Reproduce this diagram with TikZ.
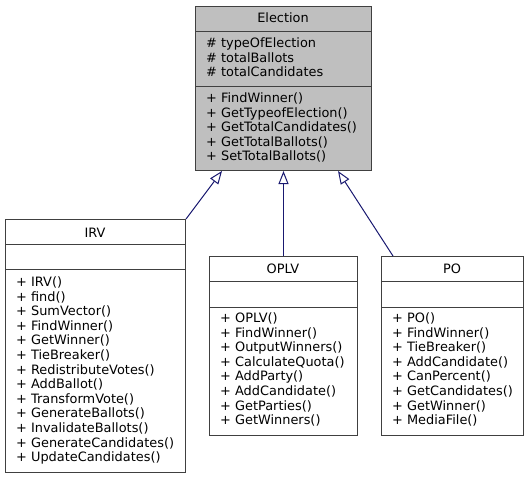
\documentclass[tikz,border=0pt]{standalone}
\usepackage{fontspec}
\setmainfont{DejaVu Sans}
\usetikzlibrary{arrows.meta,calc}
\definecolor{edgeblue}{HTML}{191970}
\definecolor{basegray}{HTML}{BFBFBF}
\tikzset{
  classbox/.style={draw=black!75, line width=1pt, inner sep=0pt, anchor=north west},
  sepline/.style={draw=black!75, line width=1pt},
  member/.style={anchor=base west, inner sep=0pt, font=\fontsize{12.9}{14}\selectfont},
  classname/.style={anchor=base, inner sep=0pt, font=\fontsize{12.9}{14}\selectfont},
  inherit/.style={draw=edgeblue, line width=1pt, -{Triangle[open,length=13pt,width=10pt]}},
}

\begin{document}
\begin{tikzpicture}[x=1pt,y=-1pt]
			\useasboundingbox (0,0) rectangle (529,477);
			%%%%% BASE CLASS %%%%%
			\node[classbox, fill=basegray, minimum width=176pt, minimum height=164pt] (election) at (195,6) {};
			\draw[sepline] (195,31) -- (371,31);
			\draw[sepline] (195,86) -- (371,86);
			\node[classname] (electiont) at (283,22) {Election};
			\foreach \a [count=\i from 0] in {typeOfElection, totalBallots, totalCandidates}
				\node[member] (electiona\i) at (206, 47.5+14.5*\i) {\# \a};
			\foreach \m [count=\i from 0] in {FindWinner(), GetTypeofElection(), GetTotalCandidates(), GetTotalBallots(), SetTotalBallots()}
				\node[member] (electionm\i) at (206, 102.5+14.5*\i) {+ \m};
			
			%%%%% IRV %%%%%
			\node[classbox, fill=white, minimum width=180pt, minimum height=253pt] (irv) at (5,219) {};
			\draw[sepline] (5,244) -- (185,244);
			\draw[sepline] (5,269) -- (185,269);
			\node[classname] (irvt) at (95,237) {IRV};
			\foreach \m [count=\i from 0] in {IRV(), find(), SumVector(), FindWinner(), GetWinner(), TieBreaker(), RedistributeVotes(), AddBallot(), TransformVote(), GenerateBallots(), InvalidateBallots(), GenerateCandidates(), UpdateCandidates()}
				\node[member] (irvm\i) at (16, 286.5+14.6*\i) {+ \m};
			
			%%%%% OPLV %%%%%
			\node[classbox, fill=white, minimum width=148pt, minimum height=179pt] (oplv) at (209,256) {};
			\draw[sepline] (209,281) -- (357,281);
			\draw[sepline] (209,307) -- (357,307);
			\node[classname] (oplvt) at (283,273) {OPLV};
			\foreach \m [count=\i from 0] in {OPLV(), FindWinner(), OutputWinners(), CalculateQuota(), AddParty(), AddCandidate(), GetParties(), GetWinners()}
				\node[member] (oplvm\i) at (220, 322.5+14.6*\i) {+ \m};
			
			%%%%% PO %%%%%
			\node[classbox, fill=white, minimum width=142pt, minimum height=179pt] (po) at (381,256) {};
			\draw[sepline] (381,281) -- (523,281);
			\draw[sepline] (381,307) -- (523,307);
			\node[classname] (pot) at (452,273) {PO};
			\foreach \m [count=\i from 0] in {PO(), FindWinner(), TieBreaker(), AddCandidate(), CanPercent(), GetCandidates(), GetWinner(), MediaFile()}
				\node[member] (pom\i) at (392, 322.5+14.6*\i) {+ \m};
			
			%%%%% INHERITANCE %%%%%
			\draw[inherit] (irv.north east) -- ($(election.south west)+(27,0)$);
			\draw[inherit] (oplv.north) -- (oplv.north |- election.south);
			\draw[inherit] ($(po.north west)+(12,0)$) -- ($(election.south east)+(-34,0)$);
		\end{tikzpicture}
\end{document}
